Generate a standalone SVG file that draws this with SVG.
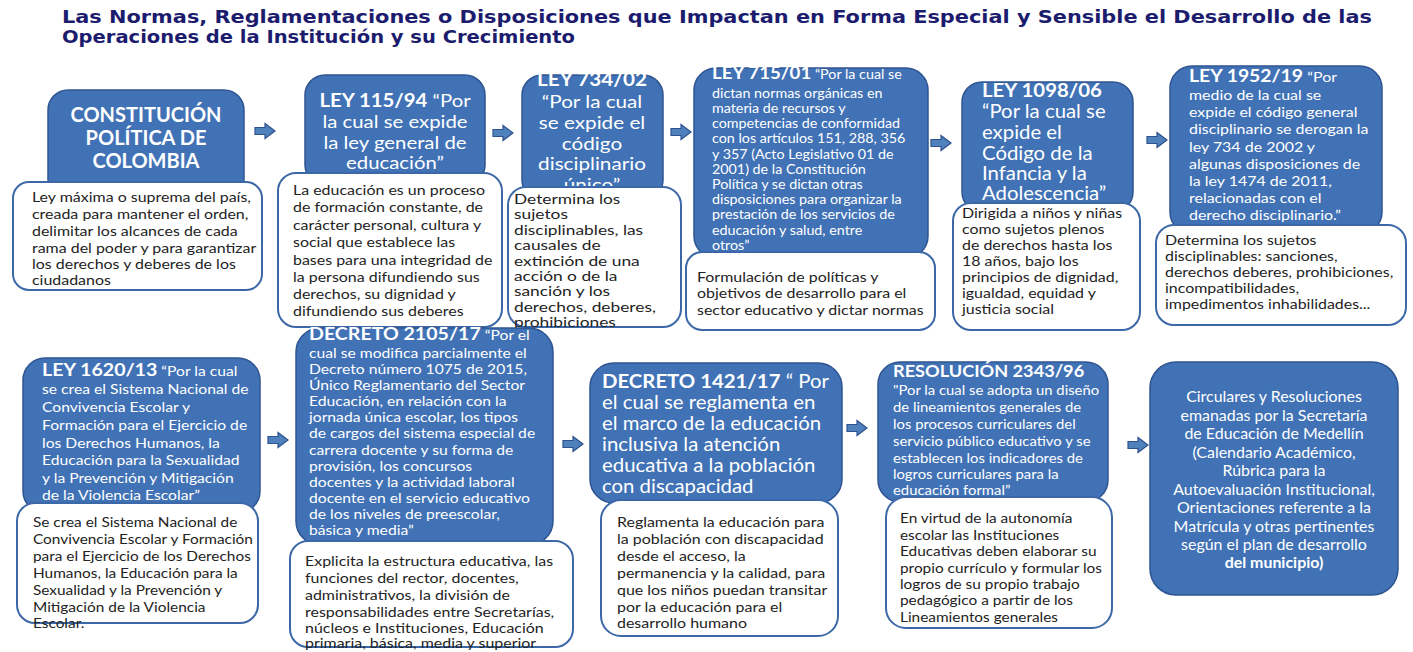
<svg xmlns="http://www.w3.org/2000/svg" xmlns:xlink="http://www.w3.org/1999/xlink" width="1413" height="652" viewBox="0 0 1413 652">
<style>
.title{font-family:"DejaVu Sans",Verdana,sans-serif;font-weight:bold;font-size:17px;fill:#1c1c6e}
.blue{fill:#4172b6;stroke:#2f5591;stroke-width:1.5}
.card{fill:#ffffff;stroke:#3d68a8;stroke-width:2}
.wt{font-family:Lato,"Open Sans",sans-serif;fill:#ffffff}
.dt{font-family:Lato,"Open Sans",sans-serif;fill:#232323;font-size:14px}
.b{font-weight:bold}
.arr{fill:#4f81bd;stroke:#2f528f;stroke-width:1.2}
</style>
<defs>
<path id="arrow" d="M0,-3.5 H10 V-7.5 L20,0 L10,7.5 V3.5 H0 Z"/>
</defs>
<rect width="1413" height="652" fill="#ffffff"/>
<g id="title">
<text class="title" x="62" y="23" textLength="1310" lengthAdjust="spacingAndGlyphs">Las Normas, Reglamentaciones o Disposiciones que Impactan en Forma Especial y Sensible el Desarrollo de las</text>
<text class="title" x="62" y="43" textLength="513" lengthAdjust="spacingAndGlyphs">Operaciones de la Institución y su Crecimiento</text>
</g>
<g id="connectors" class="arr">
<use xlink:href="#arrow" href="#arrow" x="255" y="131"/>
<use xlink:href="#arrow" href="#arrow" x="493" y="133"/>
<use xlink:href="#arrow" href="#arrow" x="671" y="132"/>
<use xlink:href="#arrow" href="#arrow" x="931" y="143"/>
<use xlink:href="#arrow" href="#arrow" x="1147" y="140"/>
<use xlink:href="#arrow" href="#arrow" x="268" y="440"/>
<use xlink:href="#arrow" href="#arrow" x="563" y="444"/>
<use xlink:href="#arrow" href="#arrow" x="847" y="428"/>
<use xlink:href="#arrow" href="#arrow" x="1128" y="445"/>
</g>
<g id="n1">
<rect class="blue" x="48" y="90" width="196" height="110" rx="20"/>
<text class="wt b" font-size="20" text-anchor="middle"><tspan x="146" y="122">CONSTITUCIÓN</tspan><tspan x="146" y="145">POLÍTICA DE</tspan><tspan x="146" y="168">COLOMBIA</tspan></text>
<rect class="card" x="13" y="182" width="249" height="108" rx="16"/>
<text class="dt" transform="matrix(1.14 0 0 1 -4.48 0)"><tspan x="32" y="202">Ley máxima o suprema del país,</tspan><tspan x="32" y="219">creada para mantener el orden,</tspan><tspan x="32" y="236">delimitar los alcances de cada</tspan><tspan x="32" y="253">rama del poder y para garantizar</tspan><tspan x="32" y="269">los derechos y deberes de los</tspan><tspan x="32" y="285">ciudadanos</tspan></text>
</g>
<g id="n2">
<rect class="blue" x="305" y="75" width="180" height="110" rx="20"/>
<text class="wt" font-size="18" text-anchor="middle" transform="matrix(1.13 0 0 1 -51.35 0)"><tspan x="395" y="107"><tspan class="b">LEY 115/94</tspan>  “Por</tspan><tspan x="395" y="128">la cual se expide</tspan><tspan x="395" y="149">la ley general de</tspan><tspan x="395" y="169">educación”</tspan></text>
<rect class="card" x="278" y="173" width="224" height="154" rx="18"/>
<text class="dt" transform="matrix(1.14 0 0 1 -41.02 0)"><tspan x="293" y="195">La educación es un proceso</tspan><tspan x="293" y="212">de formación constante, de</tspan><tspan x="293" y="230">carácter personal, cultura y</tspan><tspan x="293" y="247">social que establece las</tspan><tspan x="293" y="265">bases para una integridad de</tspan><tspan x="293" y="282">la persona difundiendo sus</tspan><tspan x="293" y="299">derechos, su dignidad y</tspan><tspan x="293" y="316">difundiendo sus deberes</tspan></text>
</g>
<g id="n3">
<rect class="blue" x="522" y="75" width="141" height="125" rx="20"/>
<text class="wt" font-size="18" text-anchor="middle" transform="matrix(1.15 0 0 1 -88.8 0)"><tspan class="b" x="592" y="86">LEY 734/02</tspan><tspan x="592" y="108">“Por la cual</tspan><tspan x="592" y="129">se expide el</tspan><tspan x="592" y="150">código</tspan><tspan x="592" y="170">disciplinario</tspan><tspan x="592" y="191">único”</tspan></text>
<rect class="card" x="508" y="187" width="173" height="140" rx="18"/>
<text class="dt" font-size="13.5" transform="matrix(1.24 0 0 1 -123.36 0)"><tspan x="514" y="204">Determina los</tspan><tspan x="514" y="219.4">sujetos</tspan><tspan x="514" y="234.8">disciplinables, las</tspan><tspan x="514" y="250.2">causales de</tspan><tspan x="514" y="265.6">extinción de una</tspan><tspan x="514" y="281">acción o de la</tspan><tspan x="514" y="296.4">sanción y los</tspan><tspan x="514" y="311.8">derechos, deberes,</tspan><tspan x="514" y="327">prohibiciones</tspan></text>
</g>
<g id="n4">
<rect class="blue" x="694" y="68" width="234" height="190" rx="22"/>
<text class="wt" font-size="13" transform="matrix(1.1 0 0 1 -71.2 0)"><tspan x="712" y="79"><tspan class="b" font-size="17">LEY 715/01</tspan> “Por la cual se</tspan><tspan x="712" y="98">dictan normas orgánicas en</tspan><tspan x="712" y="113">materia de recursos y</tspan><tspan x="712" y="128">competencias de conformidad</tspan><tspan x="712" y="143">con los artículos 151, 288, 356</tspan><tspan x="712" y="159">y 357 (Acto Legislativo 01 de</tspan><tspan x="712" y="174">2001) de la Constitución</tspan><tspan x="712" y="189">Política y se dictan otras</tspan><tspan x="712" y="204">disposiciones para organizar la</tspan><tspan x="712" y="219">prestación de los servicios de</tspan><tspan x="712" y="235">educación y salud, entre</tspan><tspan x="712" y="250">otros”</tspan></text>
<rect class="card" x="686" y="252" width="249" height="78" rx="16"/>
<text class="dt" transform="matrix(1.14 0 0 1 -97.58 0)"><tspan x="697" y="282">Formulación de políticas y</tspan><tspan x="697" y="298">objetivos de desarrollo para el</tspan><tspan x="697" y="315">sector educativo y dictar normas</tspan></text>
</g>
<g id="n5">
<rect class="blue" x="962" y="82" width="171" height="130" rx="20"/>
<text class="wt" font-size="18.5" transform="matrix(1.1 0 0 1 -98.2 0)"><tspan class="b" x="982" y="97">LEY 1098/06</tspan><tspan x="982" y="118">“Por la cual se</tspan><tspan x="982" y="139">expide el</tspan><tspan x="982" y="160">Código de la</tspan><tspan x="982" y="180">Infancia y la</tspan><tspan x="982" y="200">Adolescencia”</tspan></text>
<rect class="card" x="953" y="203" width="187" height="127" rx="18"/>
<text class="dt" transform="matrix(1.14 0 0 1 -134.68 0)"><tspan x="962" y="218">Dirigida a niños y niñas</tspan><tspan x="962" y="234">como sujetos plenos</tspan><tspan x="962" y="250">de derechos hasta los</tspan><tspan x="962" y="266">18 años, bajo los</tspan><tspan x="962" y="282">principios de dignidad,</tspan><tspan x="962" y="298">igualdad, equidad y</tspan><tspan x="962" y="314">justicia social</tspan></text>
</g>
<g id="n6">
<rect class="blue" x="1170" y="66" width="212" height="168" rx="22"/>
<text class="wt" font-size="14" transform="matrix(1.14 0 0 1 -166.46 0)"><tspan x="1189" y="82"><tspan class="b" font-size="17">LEY 1952/19</tspan> “Por</tspan><tspan x="1189" y="100">medio de la cual se</tspan><tspan x="1189" y="117">expide el código general</tspan><tspan x="1189" y="134">disciplinario se derogan la</tspan><tspan x="1189" y="152">ley 734 de 2002 y</tspan><tspan x="1189" y="169">algunas disposiciones de</tspan><tspan x="1189" y="186">la ley 1474 de 2011,</tspan><tspan x="1189" y="203">relacionadas con el</tspan><tspan x="1189" y="220">derecho disciplinario.”</tspan></text>
<rect class="card" x="1156" y="225" width="250" height="100" rx="18"/>
<text class="dt" transform="matrix(1.14 0 0 1 -163.1 0)"><tspan x="1165" y="245">Determina los sujetos</tspan><tspan x="1165" y="261">disciplinables: sanciones,</tspan><tspan x="1165" y="277">derechos deberes, prohibiciones,</tspan><tspan x="1165" y="293">incompatibilidades,</tspan><tspan x="1165" y="309">impedimentos inhabilidades...</tspan></text>
</g>
<g id="n7">
<rect class="blue" x="23" y="358" width="237" height="155" rx="22"/>
<text class="wt" font-size="14" transform="matrix(1.12 0 0 1 -5.04 0)"><tspan x="42" y="376"><tspan class="b" font-size="17.5">LEY 1620/13</tspan> “Por la cual</tspan><tspan x="42" y="394">se crea el Sistema Nacional de</tspan><tspan x="42" y="412">Convivencia Escolar y</tspan><tspan x="42" y="430">Formación para el Ejercicio de</tspan><tspan x="42" y="448">los Derechos Humanos, la</tspan><tspan x="42" y="465">Educación para la Sexualidad</tspan><tspan x="42" y="483">y la Prevención y Mitigación</tspan><tspan x="42" y="500">de la Violencia Escolar”</tspan></text>
<rect class="card" x="17" y="503" width="241" height="120" rx="18"/>
<text class="dt" transform="matrix(1.1 0 0 1 -3.3 0)"><tspan x="33" y="527">Se crea el Sistema Nacional de</tspan><tspan x="33" y="544">Convivencia Escolar y Formación</tspan><tspan x="33" y="561">para el Ejercicio de los Derechos</tspan><tspan x="33" y="578">Humanos, la Educación para la</tspan><tspan x="33" y="595">Sexualidad y la Prevención y</tspan><tspan x="33" y="612">Mitigación de la Violencia</tspan><tspan x="33" y="628">Escolar.</tspan></text>
</g>
<g id="n8">
<rect class="blue" x="296" y="328" width="257" height="217" rx="24"/>
<text class="wt" font-size="14" transform="matrix(1.12 0 0 1 -37.08 0)"><tspan x="309" y="340"><tspan class="b" font-size="17.5">DECRETO 2105/17</tspan> “Por el</tspan><tspan x="309" y="358">cual se modifica parcialmente el</tspan><tspan x="309" y="374">Decreto número 1075 de 2015,</tspan><tspan x="309" y="390">Único Reglamentario del Sector</tspan><tspan x="309" y="406">Educación, en relación con la</tspan><tspan x="309" y="422">jornada única escolar, los tipos</tspan><tspan x="309" y="438">de cargos del sistema especial de</tspan><tspan x="309" y="455">carrera docente y su forma de</tspan><tspan x="309" y="471">provisión, los concursos</tspan><tspan x="309" y="487">docentes y la actividad laboral</tspan><tspan x="309" y="503">docente en el servicio educativo</tspan><tspan x="309" y="519">de los niveles de preescolar,</tspan><tspan x="309" y="535">básica y media”</tspan></text>
<rect class="card" x="290" y="541" width="283" height="106" rx="18"/>
<text class="dt" transform="matrix(1.14 0 0 1 -42.7 0)"><tspan x="305" y="566">Explicita la estructura educativa, las</tspan><tspan x="305" y="583">funciones del rector, docentes,</tspan><tspan x="305" y="600">administrativos, la división de</tspan><tspan x="305" y="617">responsabilidades entre Secretarías,</tspan><tspan x="305" y="633">núcleos e Instituciones, Educación</tspan><tspan x="305" y="648">primaria, básica, media y superior</tspan></text>
</g>
<g id="n9">
<rect class="blue" x="590" y="363" width="252" height="140" rx="24"/>
<text class="wt" font-size="18.5" transform="matrix(1.1 0 0 1 -60.2 0)"><tspan x="602" y="388"><tspan class="b">DECRETO 1421/17</tspan>  “ Por</tspan><tspan x="602" y="409">el cual se reglamenta en</tspan><tspan x="602" y="430">el marco de la educación</tspan><tspan x="602" y="451">inclusiva la atención</tspan><tspan x="602" y="472">educativa a la población</tspan><tspan x="602" y="493">con discapacidad</tspan></text>
<rect class="card" x="601" y="500" width="237" height="136" rx="20"/>
<text class="dt" transform="matrix(1.14 0 0 1 -86.38 0)"><tspan x="617" y="527">Reglamenta la educación para</tspan><tspan x="617" y="544">la población con discapacidad</tspan><tspan x="617" y="561">desde el acceso, la</tspan><tspan x="617" y="578">permanencia y la calidad, para</tspan><tspan x="617" y="595">que los niños puedan transitar</tspan><tspan x="617" y="612">por la educación para el</tspan><tspan x="617" y="628">desarrollo humano</tspan></text>
</g>
<g id="n10">
<rect class="blue" x="878" y="362" width="230" height="140" rx="22"/>
<text class="wt" font-size="13.5" transform="matrix(1.1 0 0 1 -89.3 0)"><tspan class="b" font-size="16.5" x="893" y="377">RESOLUCIÓN 2343/96</tspan><tspan x="893" y="395">"Por la cual se adopta un diseño</tspan><tspan x="893" y="412">de lineamientos generales de</tspan><tspan x="893" y="429">los procesos curriculares del</tspan><tspan x="893" y="446">servicio público educativo y se</tspan><tspan x="893" y="463">establecen los indicadores de</tspan><tspan x="893" y="479">logros curriculares para la</tspan><tspan x="893" y="495">educación formal”</tspan></text>
<rect class="card" x="886" y="497" width="226" height="131" rx="20"/>
<text class="dt" transform="matrix(1.1 0 0 1 -90 0)"><tspan x="900" y="523">En virtud de la autonomía</tspan><tspan x="900" y="540">escolar las Instituciones</tspan><tspan x="900" y="556">Educativas deben elaborar su</tspan><tspan x="900" y="573">propio currículo y formular los</tspan><tspan x="900" y="589">logros de su propio trabajo</tspan><tspan x="900" y="605">pedagógico a partir de los</tspan><tspan x="900" y="622">Lineamientos generales</tspan></text>
</g>
<g id="n11">
<rect class="blue" x="1150" y="362" width="248" height="233" rx="26"/>
<text class="wt" font-size="14.5" text-anchor="middle" transform="matrix(1.1 0 0 1 -127.4 0)"><tspan x="1274" y="402">Circulares y Resoluciones</tspan><tspan x="1274" y="421">emanadas por la Secretaría</tspan><tspan x="1274" y="439">de Educación de Medellín</tspan><tspan x="1274" y="458">(Calendario Académico,</tspan><tspan x="1274" y="476">Rúbrica para la</tspan><tspan x="1274" y="495">Autoevaluación Institucional,</tspan><tspan x="1274" y="513">Orientaciones referente a la</tspan><tspan x="1274" y="532">Matrícula y otras pertinentes</tspan><tspan x="1274" y="550">según el plan de desarrollo</tspan><tspan class="b" x="1274" y="568">del municipio)</tspan></text>
</g>
</svg>
